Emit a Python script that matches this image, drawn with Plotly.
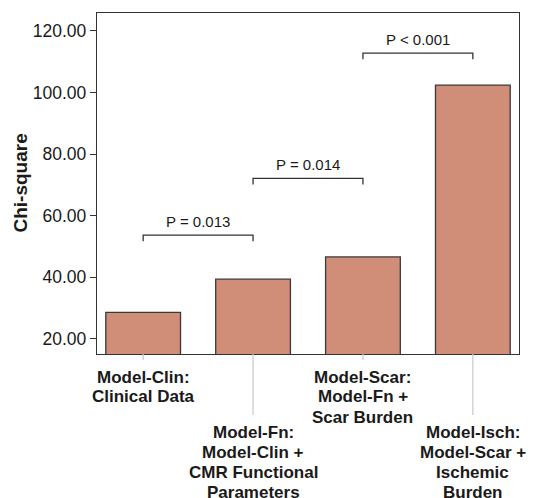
import plotly.graph_objects as go

category_lines = [
    ["Model-Clin:", "Clinical Data"],
    ["Model-Fn:", "Model-Clin +", "CMR Functional", "Parameters"],
    ["Model-Scar:", "Model-Fn +", "Scar Burden"],
    ["Model-Isch:", "Model-Scar +", "Ischemic", "Burden"],
]
chi_square = [28.6, 39.4, 46.6, 102.4]
label_staggered = [False, True, False, True]

bracket_pairs = [(0, 1), (1, 2), (2, 3)]
bracket_heights = [53.7, 72.1, 112.8]
bracket_labels = ["P = 0.013", "P = 0.014", "P < 0.001"]

y_ticks = [20, 40, 60, 80, 100, 120]

FONT = "Liberation Sans, Arial, Helvetica, sans-serif"
TXT = "#1a1a1a"
xpos = list(range(len(category_lines)))

L, R, T, B = 97, 16, 13, 144
W, H = 535, 498
plot_h = H - T - B
plot_w = W - L - R


def py(px):
    return (H - B - px) / plot_h


fig = go.Figure()
fig.add_trace(go.Bar(
    x=xpos, y=chi_square, width=0.68,
    marker=dict(color="#D08D78", line=dict(color="#3a3a3a", width=1.3)),
    showlegend=False, hoverinfo="y",
))

shapes = []
annotations = []
for i, (lines, stag) in enumerate(zip(category_lines, label_staggered)):
    tick_end = 415 if stag else 360
    shapes.append(dict(type="line", xref="x", yref="paper", x0=i, x1=i,
                       y0=0, y1=py(tick_end),
                       line=dict(color="#c8c8c8", width=1.2)))
    first = 432 if stag else 377
    for k, ln in enumerate(lines):
        annotations.append(dict(x=i, xref="x", yref="paper", y=py(first + 20 * k),
                                yanchor="middle", xanchor="center", showarrow=False,
                                text="<b>" + ln + "</b>",
                                font=dict(family=FONT, size=17, color=TXT)))

for (a, b), h, lab in zip(bracket_pairs, bracket_heights, bracket_labels):
    drop = 2.0
    shapes.append(dict(type="path", xref="x", yref="y",
                       path=f"M {a},{h-drop} L {a},{h} L {b},{h} L {b},{h-drop}",
                       line=dict(color="#333333", width=1.3)))
    annotations.append(dict(x=(a + b) / 2, y=h, xref="x", yref="y",
                            yanchor="bottom", yshift=3, showarrow=False,
                            text=lab, font=dict(family=FONT, size=15, color=TXT)))

annotations.append(dict(x=(20 - L) / plot_w, y=0.5, xref="paper", yref="paper",
                        textangle=-90, xanchor="center", yanchor="middle",
                        showarrow=False, text="<b>Chi-square</b>",
                        font=dict(family=FONT, size=19, color=TXT)))

fig.update_layout(
    width=W, height=H,
    margin=dict(l=L, r=R, t=T, b=B, autoexpand=False),
    paper_bgcolor="white", plot_bgcolor="white",
    shapes=shapes, annotations=annotations,
    font=dict(family=FONT, color=TXT),
)
fig.update_xaxes(range=[-0.42, 3.42], showticklabels=False, ticks="",
                 showgrid=False, zeroline=False, showline=True, mirror=True,
                 linecolor="#333333", linewidth=1.3, automargin=False)
fig.update_yaxes(range=[15.1, 125.8], tickvals=y_ticks, tickformat=".2f",
                 ticks="outside", ticklen=6, tickcolor="#333333", tickwidth=1.3,
                 showgrid=False, zeroline=False, showline=True, mirror=True,
                 linecolor="#333333", linewidth=1.3, automargin=False,
                 tickfont=dict(family=FONT, size=17.5, color=TXT))

fig.write_html("out.html", config={"displayModeBar": False},
               post_script="document.body.style.margin='0';document.body.style.overflow='hidden';")
